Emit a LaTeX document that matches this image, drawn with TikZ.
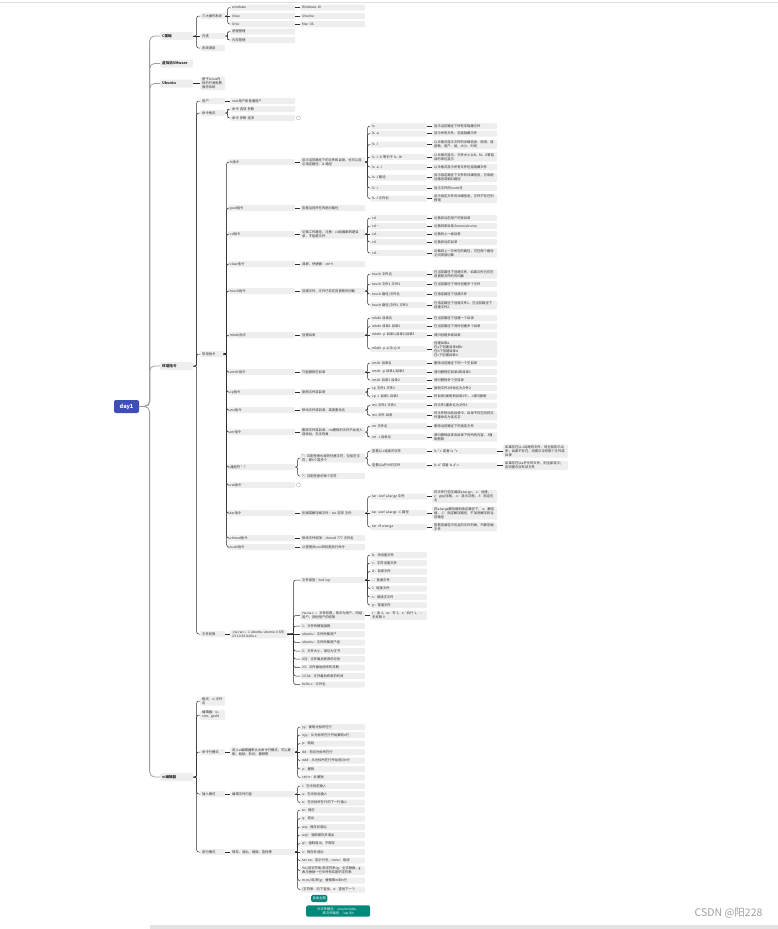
\documentclass[tikz,border=0pt]{standalone}
\usepackage{fontspec}
\setmainfont{Noto Sans CJK SC}
\XeTeXlinebreaklocale "zh"
\XeTeXlinebreakskip=0pt
\usetikzlibrary{calc}
\definecolor{boxgray}{HTML}{EEEEEE}
\definecolor{inkgray}{HTML}{2E2E2E}
\definecolor{linegray}{HTML}{9E9E9E}
\definecolor{rootblue}{HTML}{3F4DB8}
\definecolor{themeteal}{HTML}{00897B}
\tikzset{
  topic/.style={fill=boxgray,rounded corners=1.2pt,inner xsep=2pt,inner ysep=1pt,minimum height=6pt,anchor=west,align=left,text=inkgray,font=\fontsize{3.3}{4}\selectfont},
  topicL1/.style={topic,text width=29pt,minimum height=8pt,font=\bfseries\fontsize{3.6}{4.4}\selectfont},
  topicS/.style={topic,text width=21pt},
  topicW/.style={topic,text width=63pt},
  topicM/.style={topic,text width=61pt},
  topicN/.style={topic,text width=53pt},
  icon/.style={circle,draw=gray!70,line width=0.35pt,minimum size=4pt,inner sep=0pt},
  link/.style={draw=inkgray,line width=0.5pt,rounded corners=2pt},
  trunk/.style={draw=linegray,line width=0.8pt,rounded corners=5pt},
  freetopic/.style={fill=themeteal,rounded corners=1.5pt,text=white,inner xsep=1.5pt,inner ysep=2pt,anchor=west,align=center,font=\fontsize{3.3}{4}\selectfont}
}
\begin{document}
\begin{tikzpicture}[x=1pt,y=-1pt]
\useasboundingbox (0,0) rectangle (778,929);
% page frame
\draw[gray!25,line width=0.6pt] (0,2.5) -- (778,2.5);
\fill[gray!22] (150,925) rectangle (778,929);
% root
\node[fill=rootblue,rounded corners=2pt,text=white,minimum width=25pt,minimum height=13pt,inner sep=1pt,font=\bfseries\fontsize{5.5}{6}\selectfont] (day) at (126.5,406.5) {day1};
% main branches
\node[topicL1] (cbase) at (160,36) {C基础};
\node[topicL1] (vm) at (160,63.5) {虚拟机VMware};
\node[topicL1] (ubuntu) at (160,83.5) {Ubuntu};
\node[topicL1] (term) at (160,366) {终端指令};
\node[topicL1] (vi) at (160,777) {vi编辑器};
% C基础
\node[topicS] (os) at (200,16) {三大操作系统};
\node[topicS] (kernel) at (200,36) {内核};
\node[topicS] (shell) at (200,48) {系统调用};
\node[topicM] (win) at (230,7.5) {windows};
\node[topicM] (lnx) at (230,16) {linux};
\node[topicM] (unx) at (230,24) {Unix};
\node[topicM] (win2) at (300,7.5) {Windows 10};
\node[topicM] (lnx2) at (300,16) {Ubuntu};
\node[topicM] (unx2) at (300,24) {Mac OS};
\node[topicM] (kproc) at (230,31.5) {进程管理};
\node[topicM] (kmem) at (230,40) {内存管理};
% Ubuntu
\node[topicS] (ubtxt) at (200,83.5) {基于Linux内核的开源免费操作系统};
% 终端指令
\node[topicS] (user) at (200,101) {用户};
\node[topicM] (userx) at (230,101) {root用户和普通用户};
\node[topicS] (cmd) at (200,113) {命令格式};
\node[topicM] (cmd1) at (230,109) {命令 选项 参数};
\node[topicM] (cmd2) at (230,118) {命令 参数 选项};
\node[icon] (cmdicon) at (298.5,118) {};
\node[topicS] (often) at (200,354) {常用指令};
\node[topicS] (perm) at (200,634) {文件权限};
\node[topicN] (permx) at (230,634) {-rw-rw-r{-}{-} 1 ubuntu ubuntu 0 8月 23 10:34 hello.c};
% ls
\node[topicW] (ls) at (228,162) {ls指令};
\node[topicM] (lsx) at (300,162) {显示当前路径下的文件和目录，也可以显示指定路径：ls 路径};
\node[topicN] (ls0) at (370,126) {ls};
\node[topicN] (ls1) at (370,133.5) {ls -a};
\node[topicN] (ls2) at (370,144.5) {ls -l};
\node[topicN] (ls3) at (370,157) {ls -l -h 等价于 ls -lh};
\node[topicN] (ls4) at (370,167) {ls -a -l};
\node[topicN] (ls5) at (370,177.5) {ls -l 路径};
\node[topicN] (ls6) at (370,188) {ls -i};
\node[topicN] (ls7) at (370,198.5) {ls -l 文件名};
\node[topicM] (ls0t) at (432,126) {显示当前路径下所有非隐藏文件};
\node[topicM] (ls1t) at (432,133.5) {显示所有文件，包括隐藏文件};
\node[topicM] (ls2t) at (432,144.5) {以长格式显示文件的详细信息：权限、链接数、用户、组、大小、时间};
\node[topicM] (ls3t) at (432,157) {以长格式显示，文件大小以K、M、G等易读的单位显示};
\node[topicM] (ls4t) at (432,167) {以长格式显示所有文件包括隐藏文件};
\node[topicM] (ls5t) at (432,177.5) {显示指定路径下文件的详细信息，可用绝对路径或相对路径};
\node[topicM] (ls6t) at (432,188) {显示文件的inode号};
\node[topicM] (ls7t) at (432,198.5) {显示指定文件的详细信息，文件不存在则报错};
% pwd / cd / clear
\node[topicW] (pwd) at (228,208) {pwd指令};
\node[topicM] (pwdx) at (300,208) {查看当前所在的绝对路径};
\node[topicW] (cd) at (228,234) {cd指令};
\node[topicM] (cdx) at (300,234) {切换工作路径，注意：cd后面跟的是目录，不能是文件};
\node[topicN] (cd0) at (370,218) {cd};
\node[topicN] (cd1) at (370,226) {cd \textasciitilde};
\node[topicN] (cd2) at (370,234) {cd ..};
\node[topicN] (cd3) at (370,242) {cd .};
\node[topicN] (cd4) at (370,253) {cd -};
\node[topicM] (cd0t) at (432,218) {切换到当前用户的家目录};
\node[topicM] (cd1t) at (432,226) {切换到家目录/home/ubuntu};
\node[topicM] (cd2t) at (432,234) {切换到上一级目录};
\node[topicM] (cd3t) at (432,242) {切换到当前目录};
\node[topicM] (cd4t) at (432,253) {切换到上一次所在的路径，可在两个路径之间来回切换};
\node[topicW] (clr) at (228,264) {clear指令};
\node[topicM] (clrx) at (300,264) {清屏，快捷键：ctrl+l};
% touch
\node[topicW] (tch) at (228,291) {touch指令};
\node[topicM] (tchx) at (300,291) {创建文件，文件已存在则更新时间戳};
\node[topicN] (tch0) at (370,274) {touch 文件名};
\node[topicN] (tch1) at (370,284) {touch 文件1 文件2};
\node[topicN] (tch2) at (370,294) {touch 路径/文件名};
\node[topicN] (tch3) at (370,305) {touch 路径/文件1 文件2};
\node[topicM] (tch0t) at (432,274) {在当前路径下创建文件，如果文件已存在则更新文件的时间戳};
\node[topicM] (tch1t) at (432,284) {在当前路径下同时创建多个文件};
\node[topicM] (tch2t) at (432,294) {在指定路径下创建文件};
\node[topicM] (tch3t) at (432,305) {在指定路径下创建文件1，在当前路径下创建文件2};
% mkdir
\node[topicW] (mkd) at (228,335) {mkdir指令};
\node[topicM] (mkdx) at (300,335) {创建目录};
\node[topicN] (mkd0) at (370,318) {mkdir 目录名};
\node[topicN] (mkd1) at (370,326.5) {mkdir 目录1 目录2};
\node[topicN] (mkd2) at (370,335) {mkdir -p 目录1/目录2/目录3};
\node[topicN] (mkd3) at (370,349) {mkdir -p a/\{b,c\}/d};
\node[topicM] (mkd0t) at (432,318) {在当前路径下创建一个目录};
\node[topicM] (mkd1t) at (432,326.5) {在当前路径下同时创建多个目录};
\node[topicM] (mkd2t) at (432,335) {递归创建多级目录};
\node[topicM] (mkd3t) at (432,349) {创建目录a\\在a下创建目录b和c\\在b下创建目录d\\在c下创建目录d};
% rmdir
\node[topicW] (rdir) at (228,372) {rmdir指令};
\node[topicM] (rdirx) at (300,372) {只能删除空目录};
\node[topicN] (rdir0) at (370,363) {rmdir 目录名};
\node[topicN] (rdir1) at (370,372) {rmdir -p 目录1/目录2};
\node[topicN] (rdir2) at (370,380) {rmdir 目录1 目录2};
\node[topicM] (rdir0t) at (432,363) {删除当前路径下的一个空目录};
\node[topicM] (rdir1t) at (432,372) {递归删除空目录2和目录1};
\node[topicM] (rdir2t) at (432,380) {同时删除多个空目录};
% cp / mv / rm
\node[topicW] (cp) at (228,392) {cp指令};
\node[topicM] (cpx) at (300,392) {复制文件或目录};
\node[topicN] (cp0) at (370,388) {cp 文件1 文件2};
\node[topicN] (cp1) at (370,396.5) {cp -r 目录1 目录2};
\node[topicM] (cp0t) at (432,388) {复制文件1并命名为文件2};
\node[topicM] (cp1t) at (432,396.5) {将目录1复制到目录2中，-r递归复制};
\node[topicW] (mv) at (228,410) {mv指令};
\node[topicM] (mvx) at (300,410) {移动文件或目录，或者重命名};
\node[topicN] (mv0) at (370,405.5) {mv 文件1 文件2};
\node[topicN] (mv1) at (370,415.5) {mv 文件 目录};
\node[topicM] (mv0t) at (432,405.5) {将文件1重命名为文件2};
\node[topicM] (mv1t) at (432,415.5) {将文件移动到目录中，目录不存在则将文件重命名为该名字};
\node[topicW] (rm) at (228,432) {rm指令};
\node[topicM] (rmx) at (300,432) {删除文件或目录，rm删除的文件不会进入回收站，无法恢复};
\node[topicN] (rm0) at (370,426) {rm 文件名};
\node[topicN] (rm1) at (370,437) {rm -r 目录名};
\node[topicM] (rm0t) at (432,426) {删除当前路径下的指定文件};
\node[topicM] (rm1t) at (432,437) {递归删除目录及目录下的所有内容，-f强制删除};
% wildcards
\node[topicW] (wild) at (228,467) {通配符 * ?};
\node[topicM] (wild1) at (300,458) {*：匹配任意长度的任意字符，包括空字符，即0个或多个};
\node[topicM] (wild2) at (300,476) {?：匹配任意的单个字符};
\node[topicN] (wa) at (370,451) {查看以.c结尾的文件};
\node[topicM] (wa2) at (432,451) {ls *.c 或者 ls *c};
\node[topicM] (wa3) at (503,451) {如果存在以.c结尾的文件，则全部显示出来；如果不存在，则提示没有那个文件或目录};
\node[topicN] (wb) at (370,465.5) {查看以a开头的文件};
\node[topicM] (wb2) at (432,465.5) {ls a* 或者 ls a*.c};
\node[topicM] (wb3) at (503,465.5) {如果存在以a开头的文件，则全部显示；否则提示没有该文件};
% cat / tar / chmod / sudo
\node[topicW] (cat) at (228,485) {cat指令};
\node[icon] (caticon) at (298.5,485) {};
\node[topicW] (tar) at (228,513) {tar指令};
\node[topicM] (tarx) at (300,513) {压缩或解压缩文件：tar 选项 文件};
\node[topicN] (tar0) at (370,496.5) {tar -czvf a.tar.gz 文件};
\node[topicN] (tar1) at (370,513) {tar -xzvf a.tar.gz -C 路径};
\node[topicN] (tar2) at (370,527) {tar -tf a.tar.gz};
\node[topicM] (tar0t) at (432,496.5) {将文件打包压缩成a.tar.gz，-c：创建，-z：gzip压缩，-v：显示过程，-f：指定包名};
\node[topicM] (tar1t) at (432,513) {将a.tar.gz解压缩到指定路径下，-x：解压缩，-C：指定解压路径，不加则解压到当前路径};
\node[topicM] (tar2t) at (432,527) {查看压缩包中包含的文件列表，不解压缩文件};
\node[topicW] (chm) at (228,538) {chmod指令};
\node[topicM] (chmx) at (300,538) {修改文件权限：chmod 777 文件名};
\node[topicW] (sudo) at (228,547) {sudo指令};
\node[topicM] (sudox) at (300,547) {以管理员root的权限执行命令};
% 文件权限
\node[topicM] (ptype) at (300,580) {文件类型：bcd-lsp};
\node[topicN] (pt0) at (370,555) {b：块设备文件};
\node[topicN] (pt1) at (370,563) {c：字符设备文件};
\node[topicN] (pt2) at (370,571.5) {d：目录文件};
\node[topicN] (pt3) at (370,580) {-：普通文件};
\node[topicN] (pt4) at (370,588.5) {l：链接文件};
\node[topicN] (pt5) at (370,597) {s：套接字文件};
\node[topicN] (pt6) at (370,605) {p：管道文件};
\node[topicM] (pbits) at (300,615.5) {rw-rw-r{-}{-}：文件权限，依次为用户、同组用户、其他用户的权限};
\node[topicN] (pbitsx) at (370,615.5) {r：读 4，w：写 2，x：执行 1，-：无权限 0};
\node[topicM] (p1) at (300,626) {1：文件的硬链接数};
\node[topicM] (p2) at (300,634) {ubuntu：文件所属用户};
\node[topicM] (p3) at (300,642.5) {ubuntu：文件所属用户组};
\node[topicM] (p4) at (300,651) {0：文件大小，单位为字节};
\node[topicM] (p5) at (300,659) {8月：文件最后修改的月份};
\node[topicM] (p6) at (300,667.5) {23：文件最后修改的日期};
\node[topicM] (p7) at (300,676) {10:34：文件最后修改的时间};
\node[topicM] (p8) at (300,684.5) {hello.c：文件名};
% vi编辑器
\node[topicS] (vfmt) at (200,701) {格式：vi 文件名};
\node[topicS] (vedit) at (200,715) {编辑器：vi、vim、gedit};
\node[topicS] (vcmd) at (200,752) {命令行模式};
\node[topicM] (vcmdx) at (230,752) {进入vi编辑器默认为命令行模式，可以复制、粘贴、剪切、撤销等};
\node[topicM] (vc0) at (300,727) {yy：复制光标所在行};
\node[topicM] (vc1) at (300,735) {nyy：从光标所在行开始复制n行};
\node[topicM] (vc2) at (300,743.5) {p：粘贴};
\node[topicM] (vc3) at (300,752) {dd：剪切光标所在行};
\node[topicM] (vc4) at (300,760.5) {ndd：从光标所在行开始剪切n行};
\node[topicM] (vc5) at (300,769) {u：撤销};
\node[topicM] (vc6) at (300,777.5) {ctrl+r：反撤销};
\node[topicS] (vins) at (200,794) {插入模式};
\node[topicM] (vinsx) at (230,794) {编辑文件内容};
\node[topicM] (vi0) at (300,786) {i：在光标前插入};
\node[topicM] (vi1) at (300,794) {a：在光标后插入};
\node[topicM] (vi2) at (300,802.5) {o：在光标所在行的下一行插入};
\node[topicS] (vlast) at (200,852) {底行模式};
\node[topicM] (vlastx) at (230,852) {保存、退出、替换、查找等};
\node[topicM] (vl0) at (300,810) {w：保存};
\node[topicM] (vl1) at (300,818.5) {q：退出};
\node[topicM] (vl2) at (300,827) {wq：保存并退出};
\node[topicM] (vl3) at (300,835) {wq!：强制保存并退出};
\node[topicM] (vl4) at (300,843.5) {q!：强制退出，不保存};
\node[topicM] (vl5) at (300,852) {x：保存并退出};
\node[topicM] (vl6) at (300,860.5) {set nu：显示行号，nonu：取消};
\node[topicM] (vl7) at (300,870.5) {\%s/旧字符串/新字符串/g：全文替换，g表示替换一行中所有匹配的字符串};
\node[topicM] (vl8) at (300,880.5) {m,ns/旧/新/g：替换第m到n行};
\node[topicM] (vl9) at (300,889.5) {/字符串：向下查找，n：查找下一个};
% free topics
\node[freetopic] (free) at (311,898.5) {自由主题};
\node[freetopic,text width=61pt] (hdr) at (306,911) {头文件路径：/usr/include，库文件路径：/usr/lib};
\node[text=gray!75,anchor=east,font=\fontsize{10.5}{12}\selectfont] (mark) at (766,913) {CSDN @阳228};
% connectors
\foreach \c in {cbase,vm,ubuntu,term,vi}
  \draw[trunk] (day.east) -| ($(day.east)!.5!(\c.west)$) |- (\c.west);
\foreach \p/\c in {term/user,term/cmd,term/often,term/perm,cbase/os,cbase/shell,os/win,os/unx,kernel/kproc,kernel/kmem,cmd/cmd1,cmd/cmd2,
  often/ls,often/pwd,often/cd,often/clr,often/tch,often/mkd,often/rdir,often/cp,often/mv,often/rm,often/wild,often/cat,often/tar,often/chm,often/sudo,
  lsx/ls0,lsx/ls1,lsx/ls2,lsx/ls3,lsx/ls4,lsx/ls5,lsx/ls6,lsx/ls7,cdx/cd0,cdx/cd1,cdx/cd3,cdx/cd4,
  tchx/tch0,tchx/tch1,tchx/tch2,tchx/tch3,mkdx/mkd0,mkdx/mkd1,mkdx/mkd3,rdirx/rdir0,rdirx/rdir2,
  cpx/cp0,cpx/cp1,mvx/mv0,mvx/mv1,rmx/rm0,rmx/rm1,wild/wild1,wild/wild2,wild1/wa,wild1/wb,tarx/tar0,tarx/tar2,
  permx/ptype,permx/pbits,permx/p1,permx/p3,permx/p4,permx/p5,permx/p6,permx/p7,permx/p8,
  ptype/pt0,ptype/pt1,ptype/pt2,ptype/pt4,ptype/pt5,ptype/pt6,
  vi/vfmt,vi/vedit,vi/vcmd,vi/vins,vi/vlast,vcmdx/vc0,vcmdx/vc1,vcmdx/vc2,vcmdx/vc4,vcmdx/vc5,vcmdx/vc6,
  vinsx/vi0,vinsx/vi2,vlastx/vl0,vlastx/vl1,vlastx/vl2,vlastx/vl3,vlastx/vl4,vlastx/vl6,vlastx/vl7,vlastx/vl8,vlastx/vl9}
  \draw[link] (\p.east) -| ($(\p.east)!.5!(\c.west)$) |- (\c.west);
\foreach \p/\c in {cbase/kernel,os/lnx,win/win2,lnx/lnx2,unx/unx2,ubuntu/ubtxt,user/userx,ls/lsx,pwd/pwdx,cd/cdx,cdx/cd2,clr/clrx,
  tch/tchx,mkd/mkdx,mkdx/mkd2,rdir/rdirx,rdirx/rdir1,cp/cpx,mv/mvx,rm/rmx,tar/tarx,tarx/tar1,chm/chmx,sudo/sudox,
  perm/permx,permx/p2,ptype/pt3,pbits/pbitsx,wa/wa2,wa2/wa3,wb/wb2,wb2/wb3,
  vcmd/vcmdx,vcmdx/vc3,vins/vinsx,vinsx/vi1,vlast/vlastx,vlastx/vl5,
  ls0/ls0t,ls1/ls1t,ls2/ls2t,ls3/ls3t,ls4/ls4t,ls5/ls5t,ls6/ls6t,ls7/ls7t,
  cd0/cd0t,cd1/cd1t,cd2/cd2t,cd3/cd3t,cd4/cd4t,tch0/tch0t,tch1/tch1t,tch2/tch2t,tch3/tch3t,
  mkd0/mkd0t,mkd1/mkd1t,mkd2/mkd2t,mkd3/mkd3t,rdir0/rdir0t,rdir1/rdir1t,rdir2/rdir2t,
  cp0/cp0t,cp1/cp1t,mv0/mv0t,mv1/mv1t,rm0/rm0t,rm1/rm1t,tar0/tar0t,tar1/tar1t,tar2/tar2t}
  \draw[link] (\p.east) -- (\c.west);
\end{tikzpicture}
\end{document}
